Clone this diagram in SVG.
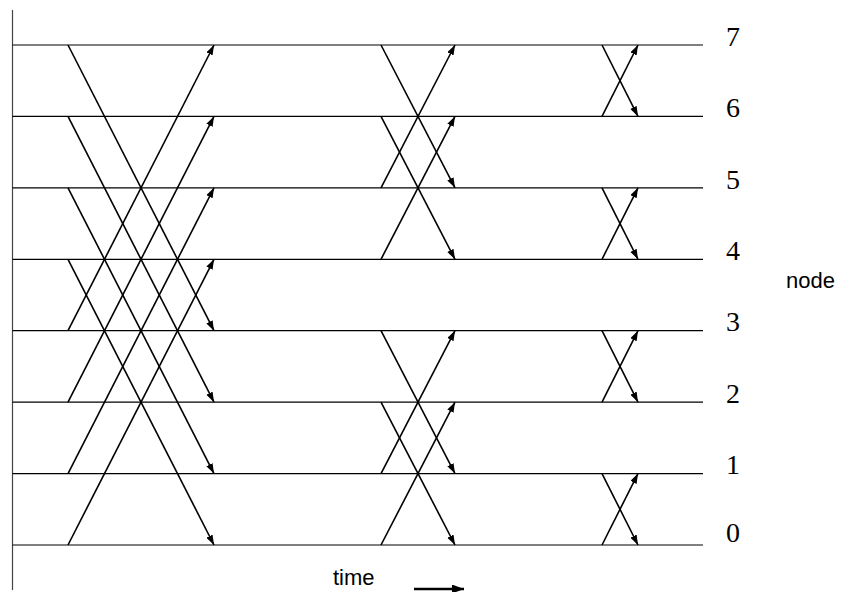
<svg xmlns="http://www.w3.org/2000/svg" width="841" height="592" viewBox="0 0 841 592">
<style>
.ln{stroke:#000;stroke-width:1.2;fill:none}
.ax{stroke:#444;stroke-width:1.2;fill:none}
.e{stroke:#000;stroke-width:1.6;fill:none;marker-end:url(#ah)}
.lab{font-family:"Liberation Serif","Times New Roman",serif;font-size:28px;fill:#000}
.sans{font-family:"Liberation Sans",Arial,sans-serif;font-size:22px;fill:#000}
</style>
<defs>
<marker id="ah" markerUnits="userSpaceOnUse" markerWidth="10" markerHeight="8" refX="10" refY="3.5" orient="auto">
<path d="M0,0 L10,3.5 L0,7 z" fill="#000"/>
</marker>
<marker id="ah2" markerUnits="userSpaceOnUse" markerWidth="12" markerHeight="10" refX="12" refY="4.5" orient="auto">
<path d="M0,0 L12,4.5 L0,9 z" fill="#000"/>
</marker>
</defs>
<rect width="841" height="592" fill="#fff"/>
<line class="ax" x1="12.5" y1="10" x2="12.5" y2="590"/>
<g id="node7"><line class="ln" x1="12.5" y1="45" x2="703" y2="45"/><text class="lab" x="726" y="46">7</text></g>
<g id="node6"><line class="ln" x1="12.5" y1="116.43" x2="703" y2="116.43"/><text class="lab" x="726" y="117">6</text></g>
<g id="node5"><line class="ln" x1="12.5" y1="187.86" x2="703" y2="187.86"/><text class="lab" x="726" y="189">5</text></g>
<g id="node4"><line class="ln" x1="12.5" y1="259.29" x2="703" y2="259.29"/><text class="lab" x="726" y="260">4</text></g>
<g id="node3"><line class="ln" x1="12.5" y1="330.71" x2="703" y2="330.71"/><text class="lab" x="726" y="331">3</text></g>
<g id="node2"><line class="ln" x1="12.5" y1="402.14" x2="703" y2="402.14"/><text class="lab" x="726" y="403">2</text></g>
<g id="node1"><line class="ln" x1="12.5" y1="473.57" x2="703" y2="473.57"/><text class="lab" x="726" y="474">1</text></g>
<g id="node0"><line class="ln" x1="12.5" y1="545" x2="703" y2="545"/><text class="lab" x="726" y="542">0</text></g>
<g id="connectors">
<line class="e" x1="68" y1="545" x2="214" y2="259.29"/>
<line class="e" x1="68" y1="473.57" x2="214" y2="187.86"/>
<line class="e" x1="68" y1="402.14" x2="214" y2="116.43"/>
<line class="e" x1="68" y1="330.71" x2="214" y2="45"/>
<line class="e" x1="68" y1="259.29" x2="214" y2="545"/>
<line class="e" x1="68" y1="187.86" x2="214" y2="473.57"/>
<line class="e" x1="68" y1="116.43" x2="214" y2="402.14"/>
<line class="e" x1="68" y1="45" x2="214" y2="330.71"/>
<line class="e" x1="381" y1="545" x2="455" y2="402.14"/>
<line class="e" x1="381" y1="473.57" x2="455" y2="330.71"/>
<line class="e" x1="381" y1="402.14" x2="455" y2="545"/>
<line class="e" x1="381" y1="330.71" x2="455" y2="473.57"/>
<line class="e" x1="381" y1="259.29" x2="455" y2="116.43"/>
<line class="e" x1="381" y1="187.86" x2="455" y2="45"/>
<line class="e" x1="381" y1="116.43" x2="455" y2="259.29"/>
<line class="e" x1="381" y1="45" x2="455" y2="187.86"/>
<line class="e" x1="602" y1="545" x2="638" y2="473.57"/>
<line class="e" x1="602" y1="473.57" x2="638" y2="545"/>
<line class="e" x1="602" y1="402.14" x2="638" y2="330.71"/>
<line class="e" x1="602" y1="330.71" x2="638" y2="402.14"/>
<line class="e" x1="602" y1="259.29" x2="638" y2="187.86"/>
<line class="e" x1="602" y1="187.86" x2="638" y2="259.29"/>
<line class="e" x1="602" y1="116.43" x2="638" y2="45"/>
<line class="e" x1="602" y1="45" x2="638" y2="116.43"/>
</g>
<text class="sans" x="786" y="288">node</text>
<text class="sans" x="333" y="585">time</text>
<line x1="414" y1="589" x2="464" y2="589" stroke="#000" stroke-width="2.4" marker-end="url(#ah2)"/>
</svg>
